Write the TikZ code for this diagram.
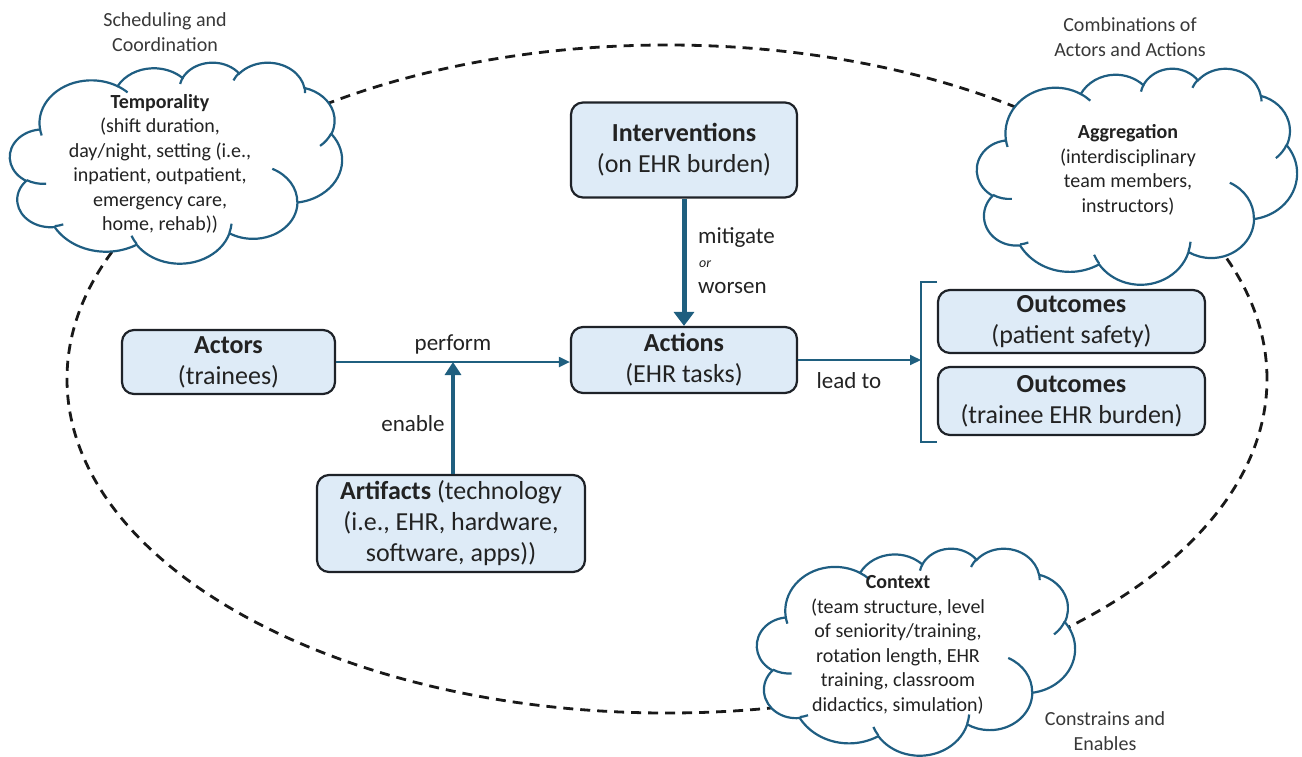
\documentclass[tikz,border=0pt]{standalone}
\usepackage{fontspec}
\setmainfont{Carlito}
\usetikzlibrary{shapes.geometric,arrows.meta}
\definecolor{boxfill}{HTML}{DEEBF7}
\definecolor{boxline}{HTML}{1E2228}
\definecolor{arrowcol}{HTML}{1F5F7F}
\definecolor{cloudcol}{HTML}{1F5E82}
\definecolor{txt}{HTML}{222222}
\newcommand\officecloud[4]{%
\begin{scope}[shift={(#1,#2)}, xscale=#3/432, yscale=#4/432]
\path[cloudline, fill=white] (39,143.70)
 arc[start angle=172.25, end angle=300.36, x radius=67.53, y radius=91.90]
 arc[start angle=-152.02, end angle=-45.43, x radius=53.33, y radius=72.67]
 arc[start angle=-153.48, end angle=-37.32, x radius=43.65, y radius=59.45]
 arc[start angle=-139.71, end angle=-10.22, x radius=48.57, y radius=65.95]
 arc[start angle=-74.77, end angle=23.21, x radius=53.33, y radius=72.73]
 arc[start angle=-37.53, end angle=81.86, x radius=67.75, y radius=92.20]
 arc[start angle=0.46, end angle=121.98, x radius=57.85, y radius=78.67]
 arc[start angle=16.85, end angle=146.22, x radius=67.52, y radius=92.15]
 arc[start angle=58.98, end angle=150.20, x radius=77.20, y radius=105.43]
 arc[start angle=83.31, end angle=223.12, x radius=43.60, y radius=59.18]
 arc[start angle=120.35, end angle=264.11, x radius=43.45, y radius=59.45]
 -- cycle;
\path[cloudline]
 (46.93,261.77) arc[start angle=85.55, end angle=120.35, x radius=43.45, y radius=59.45]
 (69.28,348.99) arc[start angle=68.23, end angle=83.31, x radius=43.60, y radius=59.18]
 (164.78,390.90) arc[start angle=146.22, end angle=158.47, x radius=67.52, y radius=92.15]
 (288.27,347.51) arc[start angle=4.74, end angle=16.85, x radius=67.52, y radius=92.15]
 (341.29,229.54) arc[start angle=-64.03, end angle=0.46, x radius=57.85, y radius=78.67]
 (417.98,153.54) arc[start angle=23.21, end angle=49.63, x radius=53.33, y radius=72.73]
 (383.24,54.26) arc[start angle=-10.22, end angle=0.83, x radius=48.57, y radius=65.95]
 (290.78,39.52) arc[start angle=-156.29, end angle=-139.71, x radius=48.57, y radius=65.95]
 (221.41,47.20) arc[start angle=-167.72, end angle=-153.48, x radius=43.65, y radius=59.45]
 (140.00,51.92) arc[start angle=-59.64, end angle=-45.76, x radius=67.53, y radius=91.90]
 (41.27,157.89) arc[start angle=163.19, end angle=172.25, x radius=67.53, y radius=91.90];
\end{scope}}
\begin{document}
\begin{tikzpicture}[x=1pt,y=-1pt,
 box/.style={draw=boxline, fill=boxfill, rounded corners=12pt, line width=2.2pt, align=center, inner sep=0pt, text=txt, font=\fontsize{26}{31}\selectfont},
 cloudline/.style={draw=cloudcol, line width=2.2pt},
 cloudtext/.style={align=center, text=txt, font=\fontsize{20}{24.5}\selectfont, inner sep=0pt},
 outer/.style={align=center, text=txt!90, font=\fontsize{20}{25}\selectfont, inner sep=0pt},
 lbl/.style={text=txt, font=\fontsize{23}{28}\selectfont, inner sep=0pt},
 thinarrow/.style={draw=arrowcol, line width=2pt, -{Triangle[length=11pt,width=10pt]}},
 thickarrow/.style={draw=arrowcol, line width=5pt, -{Triangle[length=14pt,width=20pt]}},
 midarrow/.style={draw=arrowcol, line width=4pt, -{Triangle[length=13pt,width=16pt]}},
 bracket/.style={draw=arrowcol, line width=2pt},
]
\useasboundingbox (0,0) rectangle (1302,756);
% dashed frame
\node[ellipse, draw=black!90, dash pattern=on 10pt off 7pt, line width=2.8pt, minimum width=1200pt, minimum height=668pt, inner sep=0pt] (frame) at (667,379) {};
% clouds
\officecloud{10}{62}{332}{201}
\officecloud{977}{68}{320}{216}
\officecloud{757}{548}{318}{207}
\node[cloudtext] (ttext) at (160,164) {\textbf{Temporality}\\(shift duration,\\day/night, setting (i.e.,\\inpatient, outpatient,\\emergency care,\\home, rehab))};
\node[cloudtext] (atext) at (1128,170) {\textbf{Aggregation}\\(interdisciplinary\\team members,\\instructors)};
\node[cloudtext] (ctext) at (898,645) {\textbf{Context}\\(team structure, level\\of seniority/training,\\rotation length, EHR\\training, classroom\\didactics, simulation)};
\node[outer] (tlabel) at (165,32) {Scheduling and\\Coordination};
\node[outer] (alabel) at (1130,37) {Combinations of\\Actors and Actions};
\node[outer] (clabel) at (1105,731) {Constrains and\\Enables};
% boxes
\node[box, minimum width=226pt, minimum height=95pt] (interv) at (684,150) {\textbf{Interventions}\\(on EHR burden)};
\node[box, minimum width=226pt, minimum height=66pt] (actions) at (684,360) {\textbf{Actions}\\(EHR tasks)};
\node[box, minimum width=213pt, minimum height=64pt] (actors) at (228.5,362) {\textbf{Actors}\\(trainees)};
\node[box, minimum width=268pt, minimum height=97pt] (artif) at (451,523.5) {\textbf{Artifacts} (technology\\(i.e., EHR, hardware,\\software, apps))};
\node[box, minimum width=267pt, minimum height=63pt] (out1) at (1071.5,321.5) {\textbf{Outcomes}\\(patient safety)};
\node[box, minimum width=267pt, minimum height=68pt] (out2) at (1071.5,401) {\textbf{Outcomes}\\(trainee EHR burden)};
% bracket
\coordinate (brtopR) at (937,282);
\coordinate (brtopL) at (921,282);
\coordinate (brbotL) at (921,442);
\coordinate (brbotR) at (937,442);
\coordinate (brmid) at (921,360);
\draw[bracket] (brtopR) -- (brtopL) -- (brbotL) -- (brbotR);
% connectors
\coordinate (meet) at (453,362);
\draw[thinarrow] (actors.east) -- (actors.east -| actions.west);
\draw[midarrow] (artif.north -| meet) -- (meet);
\draw[thickarrow] (interv.south) -- (actions.north);
\draw[thinarrow] (actions.east) -- (brmid);
% labels
\node[lbl] (lperform) at (453,344) {perform};
\node[lbl] (lenable) at (413,424) {enable};
\node[lbl, anchor=west] (lmit) at (698,238) {mitigate};
\node[text=txt, font=\fontsize{14}{16}\selectfont\itshape, inner sep=0pt, anchor=west] (lor) at (699,264) {or};
\node[lbl, anchor=west] (lwors) at (698,288) {worsen};
\node[lbl] (llead) at (849,381) {lead to};
\end{tikzpicture}
\end{document}
